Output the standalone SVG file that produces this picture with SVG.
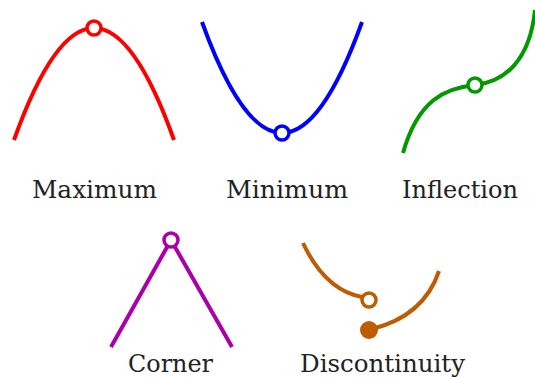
<svg xmlns="http://www.w3.org/2000/svg" width="535" height="377" viewBox="0 0 535 377">
<style>
.c{fill:none;stroke-width:4;stroke-linecap:butt}
.o{fill:#fff;stroke-width:3.5}
.t{font-family:'DejaVu Serif','Liberation Serif',serif;font-size:24px;fill:#222}
</style>
<rect width="535" height="377" fill="#fff"/>
<g id="connectors"></g>
<g id="maximum">
<path class="c" stroke="#ff0000" d="M14,140 Q94,-84 174,140"/>
<circle class="o" stroke="#ff0000" cx="94" cy="28" r="7"/>
<text class="t" x="32" y="198" textLength="125" lengthAdjust="spacingAndGlyphs">Maximum</text>
</g>
<g id="minimum">
<path class="c" stroke="#0000ff" d="M202,22 Q282,244 362,22"/>
<circle class="o" stroke="#0000ff" cx="282" cy="133" r="7"/>
<text class="t" x="226" y="198" textLength="122" lengthAdjust="spacingAndGlyphs">Minimum</text>
</g>
<g id="inflection">
<path class="c" stroke="#009900" d="M403,153 C418,100 445,88 475,85 C505,82 530,60 535,10"/>
<circle class="o" stroke="#009900" cx="475" cy="85" r="7"/>
<text class="t" x="402" y="198" textLength="116" lengthAdjust="spacingAndGlyphs">Inflection</text>
</g>
<g id="corner">
<path class="c" stroke="#aa00aa" d="M111,347 L171,240 L232,347"/>
<circle class="o" stroke="#aa00aa" cx="171" cy="240" r="7"/>
<text class="t" x="128" y="372" textLength="85" lengthAdjust="spacingAndGlyphs">Corner</text>
</g>
<g id="discontinuity">
<path class="c" stroke="#bf5b00" d="M303,243 Q325,290 362,297"/>
<circle class="o" stroke="#bf5b00" cx="369" cy="300" r="7"/>
<path class="c" stroke="#bf5b00" d="M372,329 Q424,316 439,271"/>
<circle fill="#bf5b00" cx="369" cy="330" r="9"/>
<text class="t" x="300" y="372" textLength="165" lengthAdjust="spacingAndGlyphs">Discontinuity</text>
</g>
</svg>
